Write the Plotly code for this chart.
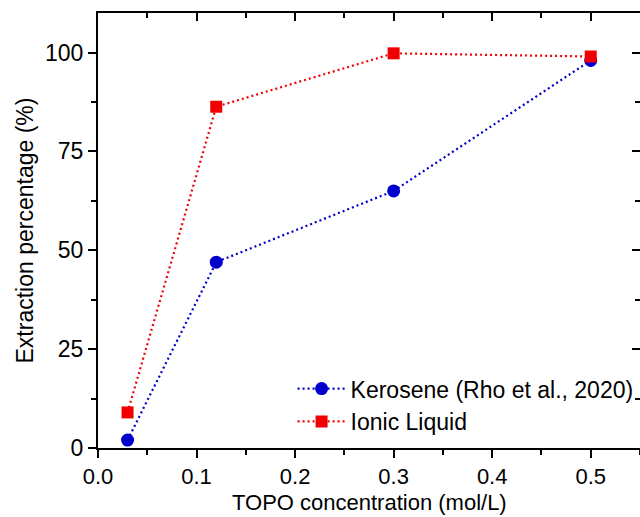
import plotly.graph_objects as go

# Data
topo = [0.03, 0.12, 0.30, 0.50]
kerosene = [2.0, 47.0, 65.0, 98.0]
ionic = [9.0, 86.3, 99.8, 99.0]
x_ticks = [0.0, 0.1, 0.2, 0.3, 0.4, 0.5]
y_ticks = [0, 25, 50, 75, 100]
x_title = "TOPO concentration (mol/L)"
y_title = "Extraction percentage (%)"

BLUE = "#0000CC"
RED = "#F00000"
FONT = "Liberation Sans, Arial, sans-serif"
FS = 23
FSX = 22

fig = go.Figure()
fig.add_trace(go.Scatter(
    x=topo, y=kerosene, mode="lines+markers", name="Kerosene (Rho et al., 2020)",
    line=dict(color=BLUE, width=2.2, dash="2px,3px"),
    marker=dict(symbol="circle", size=13, color=BLUE),
))
fig.add_trace(go.Scatter(
    x=topo, y=ionic, mode="lines+markers", name="Ionic Liquid",
    line=dict(color=RED, width=2.2, dash="2px,3px"),
    marker=dict(symbol="square", size=12, color=RED),
))
# invisible trace to activate the mirrored (top/right) axes
fig.add_trace(go.Scatter(x=[None], y=[None], xaxis="x2", yaxis="y2",
                         showlegend=False, hoverinfo="skip"))

axis_common = dict(showgrid=False, zeroline=False, showline=True,
                   linecolor="black", linewidth=2, tickcolor="black",
                   tickwidth=2, ticklen=8, automargin=False)

fig.update_layout(
    width=640, height=517,
    margin=dict(l=98, r=0, t=13, b=69),
    paper_bgcolor="white", plot_bgcolor="white",
    font=dict(family=FONT, size=FS, color="black"),
    showlegend=True,
    legend=dict(x=0.359, y=0.186, xanchor="left", yanchor="top",
                bgcolor="rgba(0,0,0,0)", borderwidth=0,
                font=dict(family=FONT, size=FS, color="black"),
                itemwidth=48),
    xaxis=dict(range=[0, 0.55], tickvals=x_ticks, tickformat=".1f",
               ticks="outside",
               minor=dict(dtick=0.05, tick0=0, ticks="outside", ticklen=5,
                          tickwidth=2, tickcolor="black"),
               tickfont=dict(family=FONT, size=FSX), **axis_common),
    yaxis=dict(range=[0, 110], tickvals=y_ticks, ticks="outside",
               minor=dict(dtick=12.5, tick0=0, ticks="outside", ticklen=5,
                          tickwidth=2, tickcolor="black"),
               tickfont=dict(family=FONT, size=FS), **axis_common),
    xaxis2=dict(range=[0, 0.55], overlaying="x", side="top", anchor="y2",
                tickvals=x_ticks, ticks="inside", showticklabels=False,
                minor=dict(dtick=0.05, tick0=0, ticks="inside", ticklen=5,
                           tickwidth=2, tickcolor="black"),
                **axis_common),
    yaxis2=dict(range=[0, 110], overlaying="y", side="right", anchor="x2",
                tickvals=y_ticks, ticks="inside", showticklabels=False,
                minor=dict(dtick=12.5, tick0=0, ticks="inside", ticklen=5,
                           tickwidth=2, tickcolor="black"),
                **axis_common),
    annotations=[
        dict(text=x_title, xref="paper", yref="paper", x=0.5, y=-0.1264,
             xanchor="center", yanchor="middle", showarrow=False,
             font=dict(family=FONT, size=FSX, color="black")),
        dict(text=y_title, xref="paper", yref="paper", x=-0.1347, y=0.5,
             xanchor="center", yanchor="middle", showarrow=False, textangle=-90,
             font=dict(family=FONT, size=FS, color="black")),
    ],
)

fig.write_html("out.html")
